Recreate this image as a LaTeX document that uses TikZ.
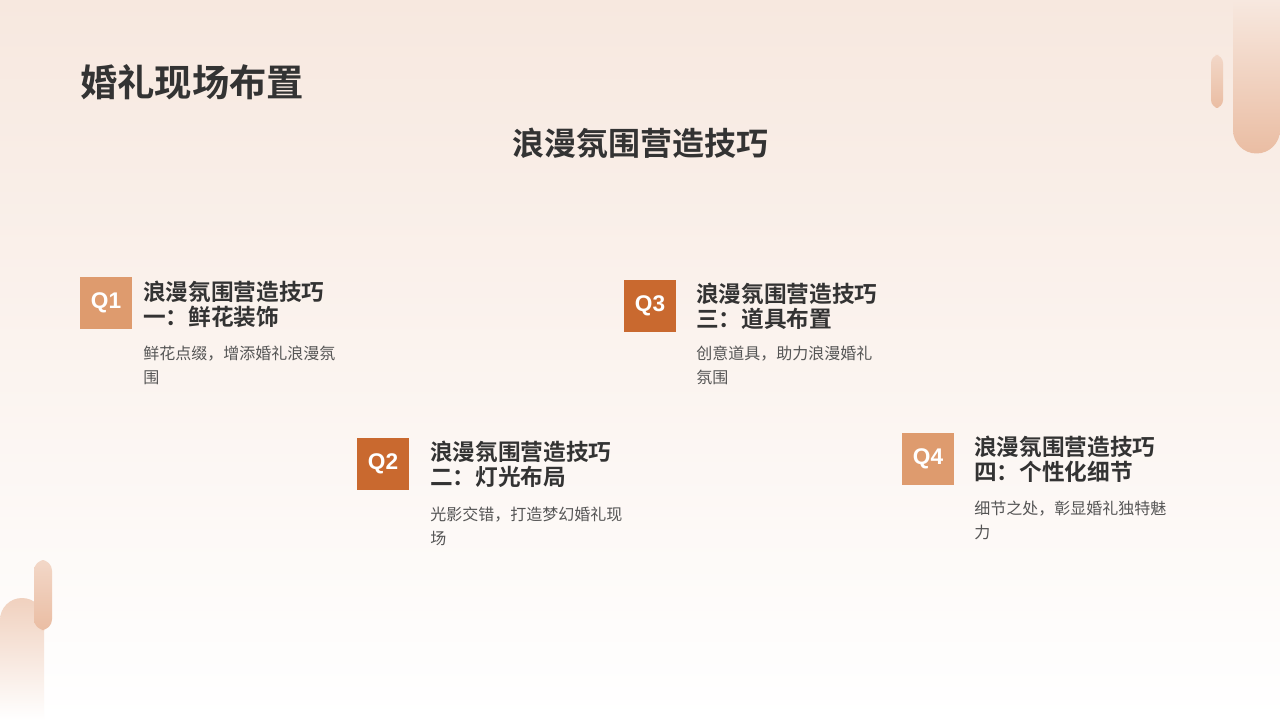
\documentclass[tikz,border=0pt]{standalone}
\usepackage{fontspec}
\setmainfont{Noto Sans CJK SC}
\newfontfamily\cjkb{Noto Sans CJK SC Bold}
\newfontfamily\latb{Liberation Sans Bold}
\begin{document}
\begin{tikzpicture}[x=0.75pt,y=-0.75pt]
\definecolor{qlight}{HTML}{DE9B6E}
\definecolor{qdark}{HTML}{C9692F}
\definecolor{txt}{HTML}{333333}
\definecolor{body}{HTML}{555555}
\definecolor{bgtop}{HTML}{F7E8DF}
\definecolor{pill}{HTML}{EABDA3}
\tikzset{
 qbox/.style={fill=#1,minimum width=39pt,minimum height=39pt,inner sep=0pt,text=white,font=\latb\fontsize{17}{17}\selectfont},
 head/.style={anchor=north west,align=left,text=txt,inner sep=0pt,font=\cjkb\fontsize{17}{18.5}\selectfont},
 bodyt/.style={anchor=north west,align=left,text=body,inner sep=0pt,font=\fontsize{12}{17.5}\selectfont},
}
\useasboundingbox (0,0) rectangle (1280,720);
\shade[top color=bgtop,bottom color=white] (0,0) rectangle (1280,720);
% decorations
\shade[top color=bgtop,bottom color=pill] (1233,0) -- (1280,0) -- (1280,130) arc (0:180:23.5) -- cycle;
\shade[top color=bgtop!60!pill,bottom color=pill,rounded corners=6] (1211,55) rectangle (1223,108);
\shade[top color=pill!70,bottom color=white] (0,620) arc (180:360:22) -- (44,720) -- (0,720) -- cycle;
\shade[top color=pill!60,bottom color=pill,rounded corners=8] (34,560) rectangle (52,630);
% titles
\node[anchor=west,inner sep=0pt,text=txt,font=\cjkb\fontsize{28}{28}\selectfont] (title) at (80,82) {婚礼现场布置};
\node[inner sep=0pt,text=txt,font=\cjkb\fontsize{24}{24}\selectfont] (sub) at (640,143) {浪漫氛围营造技巧};
% items
\node[qbox=qlight] (q1) at (106,303) {Q1};
\node[head] (h1) at (143,281) {浪漫氛围营造技巧\\一：鲜花装饰};
\node[bodyt] (b1) at (143,346) {鲜花点缀，增添婚礼浪漫氛\\围};
\node[qbox=qdark] (q2) at (383,464) {Q2};
\node[head] (h2) at (430,441) {浪漫氛围营造技巧\\二：灯光布局};
\node[bodyt] (b2) at (430,507) {光影交错，打造梦幻婚礼现\\场};
\node[qbox=qdark] (q3) at (650,306) {Q3};
\node[head] (h3) at (696,283) {浪漫氛围营造技巧\\三：道具布置};
\node[bodyt] (b3) at (696,346) {创意道具，助力浪漫婚礼\\氛围};
\node[qbox=qlight] (q4) at (928,459) {Q4};
\node[head] (h4) at (974,436) {浪漫氛围营造技巧\\四：个性化细节};
\node[bodyt] (b4) at (974,501) {细节之处，彰显婚礼独特魅\\力};
\end{tikzpicture}
\end{document}
